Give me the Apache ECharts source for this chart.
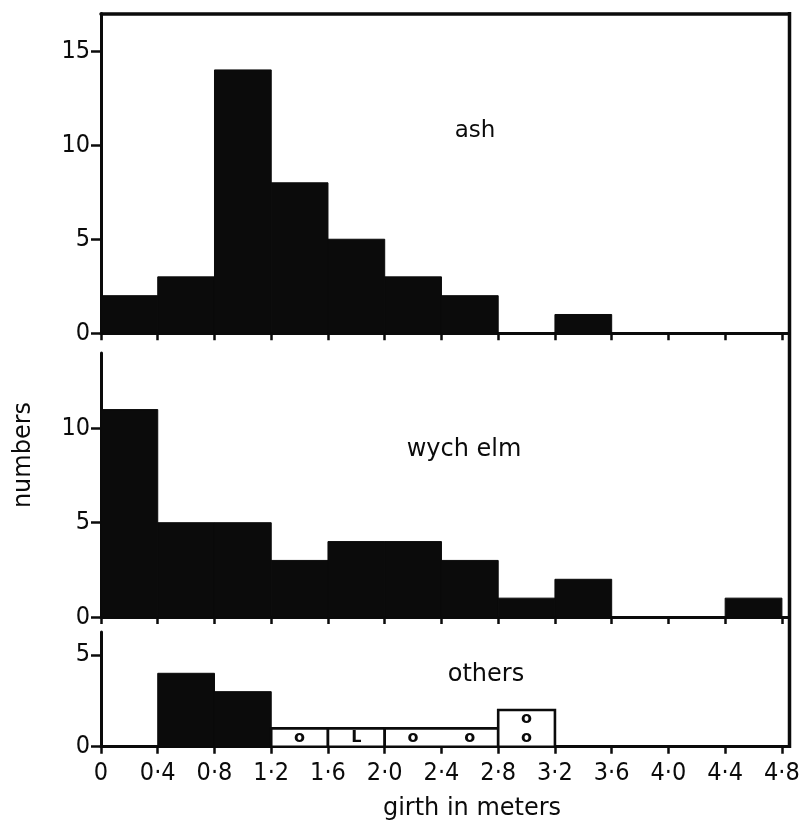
<!DOCTYPE html>
<html><head><meta charset="utf-8">
<script src="https://cdn.jsdelivr.net/npm/echarts@6/dist/echarts.min.js"></script>
<style>html,body{margin:0;padding:0;background:#fff}#c{width:803px;height:825px}</style>
</head><body><div id="c"></div>
<script>
// ---- data ----
const binEdges = [0, 0.4, 0.8, 1.2, 1.6, 2.0, 2.4, 2.8, 3.2, 3.6, 4.0, 4.4, 4.8];
const ashCounts = [2, 3, 14, 8, 5, 3, 2, 0, 1, 0, 0, 0];
const wychElmCounts = [11, 5, 5, 3, 4, 4, 3, 1, 2, 0, 0, 1];
const othersFilledCounts = [0, 4, 3, 0, 0, 0, 0, 0, 0, 0, 0, 0];
const othersOpenGroups = [[1.2, 1.6, 1], [1.6, 2.0, 1], [2.0, 2.8, 1], [2.8, 3.2, 2]];
const othersMarks = [[1.4, 0.5, 'o'], [1.8, 0.5, 'L'], [2.2, 0.5, 'o'], [2.6, 0.5, 'o'], [3.0, 0.5, 'o'], [3.0, 1.5, 'o']];
const xTicks = [0, 0.4, 0.8, 1.2, 1.6, 2.0, 2.4, 2.8, 3.2, 3.6, 4.0, 4.4, 4.8];
const xTickLabels = ['0', '0·4', '0·8', '1·2', '1·6', '2·0', '2·4', '2·8', '3·2', '3·6', '4·0', '4·4', '4·8'];
const yTicksAsh = [0, 5, 10, 15];
const yTicksElm = [0, 5, 10];
const yTicksOthers = [0, 5];
const panelLabels = ['ash', 'wych elm', 'others'];
const xTitle = 'girth in meters';
const yTitle = 'numbers';

// ---- layout ----
const GL = 101, GW = 688;
const grids = [
  {top: 13.5, height: 319.8, ymax: 17},
  {top: 353, height: 264, ymax: 14},
  {top: 632, height: 114.7, ymax: 6.25}
];
const yTickSets = [yTicksAsh, yTicksElm, yTicksOthers];
const INK = '#0b0b0b';
const tickFont = "'Liberation Sans Narrow','DejaVu Sans Condensed','Liberation Sans',sans-serif";
const textFont = "'DejaVu Sans',sans-serif";

function bins(counts) {
  const out = [];
  counts.forEach((c, i) => { if (c > 0) out.push([binEdges[i], binEdges[i + 1], c]); });
  return out;
}
function rectRender(fill, stroke, lw) {
  return function (params, api) {
    const p0 = api.coord([api.value(0), api.value(2)]);
    const p1 = api.coord([api.value(1), 0]);
    return {
      type: 'rect',
      shape: {x: p0[0], y: p0[1], width: p1[0] - p0[0], height: p1[1] - p0[1]},
      style: {fill: fill, stroke: stroke, lineWidth: lw}
    };
  };
}
function xLabel(v) {
  const i = xTicks.findIndex(t => Math.abs(t - v) < 1e-6);
  return i >= 0 ? xTickLabels[i] : '';
}

const xAxes = grids.map((g, i) => ({
  type: 'value', gridIndex: i, min: 0, max: 4.85, position: 'bottom',
  axisLine: {show: true, onZero: false, lineStyle: {color: INK, width: 3}},
  axisTick: {show: true, length: 7, customValues: xTicks, lineStyle: {color: INK, width: 2.5}},
  axisLabel: {show: i === 2, customValues: xTicks, formatter: xLabel, margin: 14,
    fontFamily: tickFont, fontSize: 25, color: INK},
  splitLine: {show: false}
}));
xAxes.push({
  type: 'value', gridIndex: 0, min: 0, max: 4.85, position: 'top',
  axisLine: {show: true, onZero: false, lineStyle: {color: INK, width: 3.5}},
  axisTick: {show: false}, axisLabel: {show: false}, splitLine: {show: false}
});

const yAxes = grids.map((g, i) => ({
  type: 'value', gridIndex: i, min: 0, max: g.ymax,
  axisLine: {show: true, onZero: false, lineStyle: {color: INK, width: 3}},
  axisTick: {show: true, length: 10, customValues: yTickSets[i], lineStyle: {color: INK, width: 2.5}},
  axisLabel: {show: true, customValues: yTickSets[i], margin: 11,
    fontFamily: tickFont, fontSize: 25, color: INK},
  splitLine: {show: false}
}));

const series = [
  {type: 'custom', xAxisIndex: 0, yAxisIndex: 0, data: bins(ashCounts),
    encode: {x: [0, 1], y: 2}, renderItem: rectRender(INK, INK, 1), silent: true},
  {type: 'custom', xAxisIndex: 1, yAxisIndex: 1, data: bins(wychElmCounts),
    encode: {x: [0, 1], y: 2}, renderItem: rectRender(INK, INK, 1), silent: true},
  {type: 'custom', xAxisIndex: 2, yAxisIndex: 2, data: bins(othersFilledCounts),
    encode: {x: [0, 1], y: 2}, renderItem: rectRender(INK, INK, 1), silent: true},
  {type: 'custom', xAxisIndex: 2, yAxisIndex: 2, data: othersOpenGroups,
    encode: {x: [0, 1], y: 2}, renderItem: rectRender('#ffffff', INK, 2.6), silent: true},
  {type: 'custom', xAxisIndex: 2, yAxisIndex: 2, data: othersMarks.map(m => [m[0], m[1]]),
    encode: {x: 0, y: 1}, silent: true, z: 5,
    renderItem: function (params, api) {
      const p = api.coord([api.value(0), api.value(1)]);
      return {type: 'text', x: p[0], y: p[1],
        style: {text: othersMarks[params.dataIndex][2], align: 'center', verticalAlign: 'middle',
          fontFamily: textFont, fontWeight: 'bold', fontSize: 16, fill: INK}};
    }}
];

const graphic = [
  {type: 'line', shape: {x1: 789.5, y1: 12, x2: 789.5, y2: 748}, style: {stroke: INK, lineWidth: 3.5}},
  {type: 'text', x: 475, y: 131, style: {text: panelLabels[0], align: 'center', verticalAlign: 'middle', fontFamily: textFont, fontSize: 23, fill: INK}},
  {type: 'text', x: 464, y: 450, style: {text: panelLabels[1], align: 'center', verticalAlign: 'middle', fontFamily: textFont, fontSize: 24, fill: INK}},
  {type: 'text', x: 486, y: 675, style: {text: panelLabels[2], align: 'center', verticalAlign: 'middle', fontFamily: textFont, fontSize: 24, fill: INK}},
  {type: 'text', x: 472, y: 809, style: {text: xTitle, align: 'center', verticalAlign: 'middle', fontFamily: textFont, fontSize: 24, fill: INK}},
  {type: 'text', x: 24, y: 455, rotation: Math.PI / 2, style: {text: yTitle, align: 'center', verticalAlign: 'middle', fontFamily: textFont, fontSize: 24, fill: INK}}
];

const chart = echarts.init(document.getElementById('c'), null, {renderer: 'canvas'});
chart.setOption({
  animation: false,
  backgroundColor: '#ffffff',
  grid: grids.map(g => ({left: GL, width: GW, top: g.top, height: g.height, containLabel: false, outerBoundsMode: 'none'})),
  xAxis: xAxes,
  yAxis: yAxes,
  series: series,
  graphic: graphic
});
</script></body></html>
